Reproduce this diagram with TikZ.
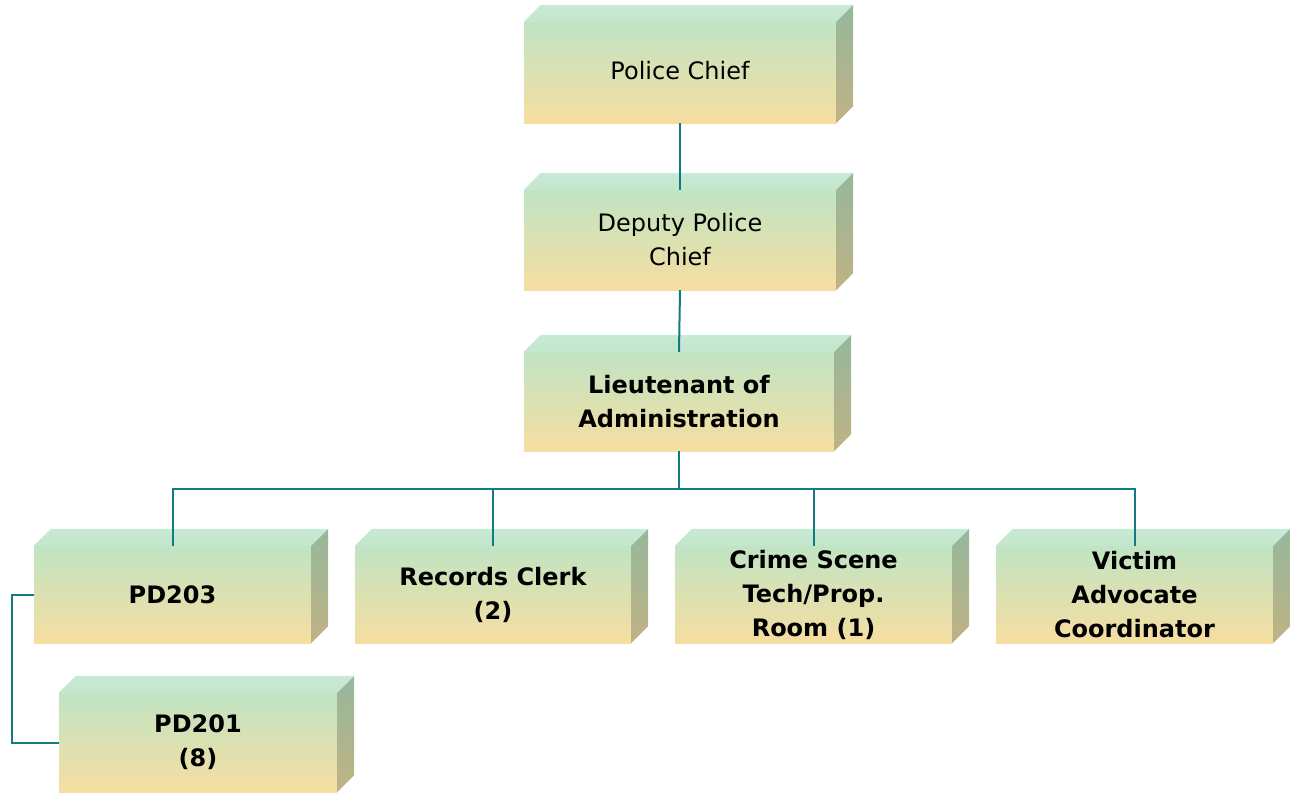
\documentclass[tikz,border=0pt]{standalone}
\usepackage{fontspec}
\setmainfont{DejaVu Sans}
\definecolor{frontA}{RGB}{192,228,196}
\definecolor{frontB}{RGB}{246,222,160}
\definecolor{topA}{RGB}{200,234,214}
\definecolor{topB}{RGB}{196,230,204}
\definecolor{sideA}{RGB}{150,184,156}
\definecolor{sideB}{RGB}{192,178,132}
\definecolor{linkc}{RGB}{18,122,132}
\tikzset{
  orgbox/.style={inner sep=0pt, align=center, top color=frontA, bottom color=frontB, draw=none,
    font=\fontsize{24}{34}\selectfont},
  boldbox/.style={orgbox, font=\fontsize{24}{34}\selectfont\bfseries},
  link/.style={draw=linkc, line width=2pt},
}
\newcommand\orgcube[7]{% name, style, cx, cy, w, h, text
  \node[#2, minimum width=#5pt, minimum height=#6pt] (#1) at (#3,#4) {#7};
  \shade[top color=topA, bottom color=topB] (#1.north west) -- ++(17,-17) -- ([shift={(17,-17)}]#1.north east) -- (#1.north east) -- cycle;
  \shade[top color=sideA, bottom color=sideB] (#1.north east) -- ++(17,-17) -- ([shift={(17,-17)}]#1.south east) -- (#1.south east) -- cycle;
}
\begin{document}
\begin{tikzpicture}[x=1pt,y=-1pt]
\useasboundingbox (0,0) rectangle (1291,793);
\orgcube{chief}{orgbox}{680}{72.5}{312}{101}{Police Chief\vphantom{y}}
\orgcube{deputy}{orgbox}{680}{240}{312}{100}{Deputy Police\\Chief}
\orgcube{lieut}{boldbox}{679}{401.5}{310}{99}{Lieutenant of\\Administration}
\orgcube{pdiii}{boldbox}{172.5}{594.5}{277}{97}{PD203}
\orgcube{records}{boldbox}{493}{594.5}{276}{97}{Records Clerk\\(2)}
\orgcube{crime}{boldbox}{813.5}{594.5}{277}{97}{Crime Scene\\Tech/Prop.\\Room (1)}
\orgcube{victim}{boldbox}{1134.5}{594.5}{277}{97}{Victim\\Advocate\\Coordinator}
\orgcube{pdi}{boldbox}{198}{742.5}{278}{99}{PD201\\(8)}
\coordinate (bus) at (679,489);
\draw[link] (chief.south) -- (deputy.north);
\draw[link] (deputy.south) -- (lieut.north);
\draw[link] (lieut.south) -- (bus) -| (pdiii.north);
\draw[link] (bus) -| (records.north);
\draw[link] (bus) -| (crime.north);
\draw[link] (bus) -| (victim.north);
\draw[link] (pdiii.west) -- ++(-22,0) |- (pdi.west);
\end{tikzpicture}
\end{document}
